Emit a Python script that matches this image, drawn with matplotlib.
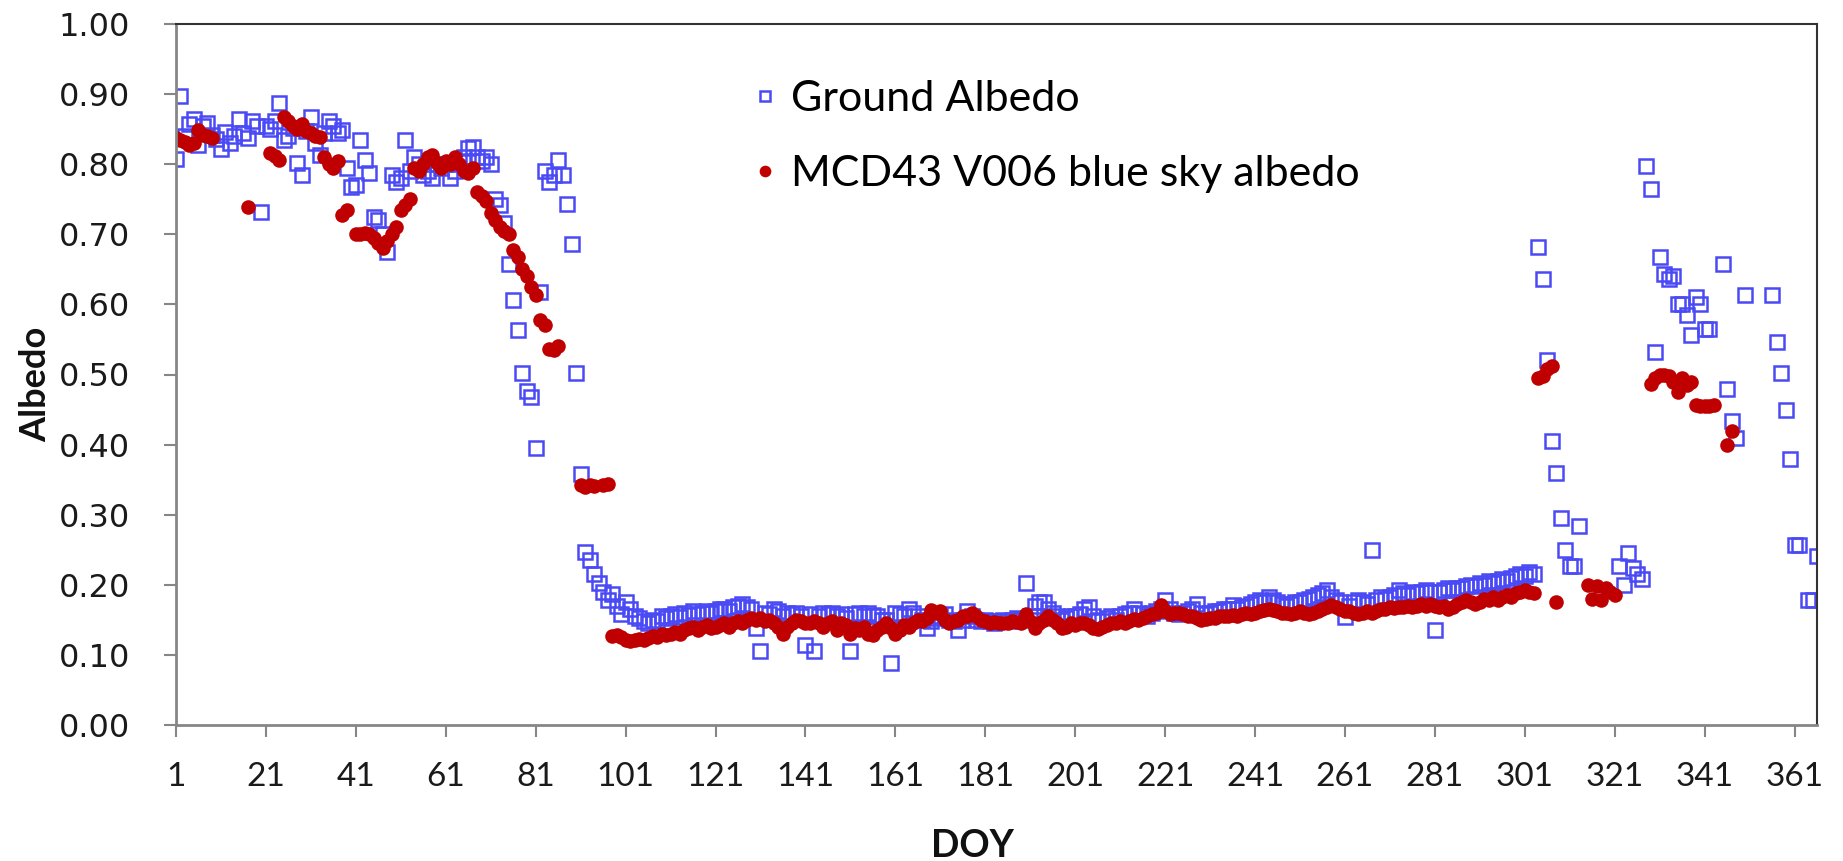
import numpy as np
import matplotlib
matplotlib.use("Agg")
import matplotlib.pyplot as plt

plt.rcParams["font.family"] = ["Lato", "DejaVu Sans"]

# day of year 1..366, one value per day (None = no observation)
doy = np.arange(1, 367)

ground_albedo = [
    0.808, 0.897, 0.840, 0.858, 0.865, 0.827, 0.855, 0.859, 0.842, 0.836,
    0.822, 0.846, 0.830, 0.840, 0.865, 0.845, 0.837, 0.861, 0.854, 0.732,
    0.854, 0.850, 0.862, 0.888, 0.835, 0.840, 0.852, 0.802, 0.785, 0.848,
    0.868, 0.830, 0.813, 0.845, 0.861, 0.854, 0.845, 0.849, 0.795, 0.768,
    0.770, 0.835, 0.806, 0.787, 0.725, 0.720, 0.700, 0.675, 0.785, 0.775,
    0.780, 0.835, 0.790, 0.810, 0.800, 0.785, 0.790, 0.780, 0.800, 0.795,
    0.800, 0.780, 0.790, 0.805, 0.810, 0.823, 0.825, 0.810, 0.805, 0.810,
    0.800, 0.751, 0.742, 0.716, 0.657, 0.606, 0.564, 0.502, 0.476, 0.468,
    0.395, 0.618, 0.790, 0.775, 0.785, 0.806, 0.785, 0.743, 0.686, 0.502,
    0.358, 0.247, 0.236, 0.216, 0.203, 0.190, 0.178, 0.187, 0.170, 0.159,
    0.175, 0.165, 0.155, 0.152, 0.148, 0.146, 0.150, 0.148, 0.155, 0.152,
    0.156, 0.158, 0.154, 0.160, 0.157, 0.162, 0.158, 0.160, 0.163, 0.160,
    0.162, 0.165, 0.166, 0.163, 0.168, 0.170, 0.172, 0.168, 0.165, 0.139,
    0.105, 0.160, 0.158, 0.165, 0.162, 0.155, 0.160, 0.158, 0.160, 0.155,
    0.114, 0.158, 0.105, 0.155, 0.160, 0.158, 0.160, 0.155, 0.158, 0.152,
    0.105, 0.158, 0.160, 0.155, 0.160, 0.157, 0.155, 0.150, 0.150, 0.089,
    0.160, 0.158, 0.155, 0.165, 0.160, 0.155, 0.150, 0.138, 0.148, 0.152,
    0.155, 0.158, 0.150, 0.148, 0.136, 0.150, 0.163, 0.155, 0.150, 0.148,
    0.150, 0.148, 0.145, 0.148, 0.150, 0.148, 0.150, 0.152, 0.150, 0.203,
    0.155, 0.170, 0.175, 0.176, 0.165, 0.160, 0.155, 0.150, 0.152, 0.155,
    0.155, 0.158, 0.165, 0.169, 0.155, 0.150, 0.148, 0.152, 0.155, 0.150,
    0.155, 0.158, 0.160, 0.165, 0.160, 0.158, 0.155, 0.160, 0.162, 0.165,
    0.178, 0.165, 0.160, 0.158, 0.160, 0.162, 0.165, 0.173, 0.160, 0.158,
    0.160, 0.162, 0.163, 0.165, 0.165, 0.171, 0.165, 0.168, 0.170, 0.172,
    0.175, 0.178, 0.176, 0.183, 0.178, 0.175, 0.172, 0.170, 0.172, 0.175,
    0.175, 0.178, 0.180, 0.182, 0.185, 0.188, 0.193, 0.182, 0.178, 0.175,
    0.154, 0.170, 0.175, 0.178, 0.175, 0.172, 0.250, 0.178, 0.183, 0.180,
    0.182, 0.185, 0.193, 0.188, 0.186, 0.190, 0.188, 0.190, 0.192, 0.190,
    0.135, 0.190, 0.192, 0.195, 0.193, 0.196, 0.195, 0.198, 0.200, 0.198,
    0.202, 0.200, 0.205, 0.203, 0.206, 0.208, 0.205, 0.210, 0.212, 0.215,
    0.212, 0.218, 0.215, 0.682, 0.636, 0.521, 0.405, 0.359, 0.295, 0.249,
    0.227, 0.227, 0.284, None, None, None, None, None, None, None,
    None, 0.227, 0.200, 0.246, 0.224, 0.215, 0.208, 0.797, 0.765, 0.532,
    0.668, 0.644, 0.636, 0.640, 0.600, 0.600, 0.585, 0.557, 0.610, 0.600,
    0.565, 0.565, None, None, 0.657, 0.480, 0.434, 0.410, None, 0.613,
    None, None, None, None, None, 0.614, 0.546, 0.502, 0.449, 0.380,
    0.257, 0.257, None, 0.178, 0.178, 0.241,
]

mcd43_albedo = [
    0.837, 0.835, 0.832, 0.827, 0.830, 0.849, 0.842, 0.840, 0.838, None,
    None, None, None, None, None, None, 0.739, None, None, None,
    None, 0.816, 0.812, 0.806, 0.868, 0.861, 0.855, 0.850, 0.858, 0.848,
    0.845, 0.840, 0.839, 0.810, 0.800, 0.795, 0.804, 0.728, 0.735, None,
    0.700, 0.700, 0.702, 0.700, 0.695, 0.688, 0.680, 0.690, 0.700, 0.710,
    0.735, 0.742, 0.751, 0.795, 0.790, 0.800, 0.810, 0.813, 0.801, 0.795,
    0.805, 0.800, 0.810, 0.800, 0.790, 0.787, 0.795, 0.761, 0.755, 0.748,
    0.730, 0.720, 0.710, 0.704, 0.700, 0.678, 0.668, 0.650, 0.640, 0.625,
    0.613, 0.578, 0.571, 0.537, 0.535, 0.540, None, None, None, None,
    0.342, 0.340, 0.343, 0.341, None, 0.342, 0.344, 0.127, 0.128, 0.125,
    0.121, 0.120, 0.121, 0.122, 0.121, 0.124, 0.127, 0.126, 0.130, 0.128,
    0.130, 0.133, 0.130, 0.135, 0.138, 0.140, 0.136, 0.140, 0.142, 0.138,
    0.140, 0.143, 0.145, 0.140, 0.146, 0.148, 0.146, 0.150, 0.152, 0.150,
    0.153, 0.148, 0.150, 0.146, 0.140, 0.130, 0.140, 0.146, 0.150, 0.148,
    0.146, 0.145, 0.148, 0.146, 0.140, 0.145, 0.148, 0.135, 0.145, 0.142,
    0.130, 0.138, 0.135, 0.140, 0.130, 0.128, 0.135, 0.140, 0.145, 0.138,
    0.130, 0.135, 0.142, 0.140, 0.145, 0.150, 0.148, 0.152, 0.164, 0.160,
    0.162, 0.150, 0.146, 0.148, 0.150, 0.155, 0.155, 0.160, 0.155, 0.150,
    0.148, 0.146, 0.147, 0.146, 0.145, 0.146, 0.148, 0.147, 0.145, 0.159,
    0.148, 0.139, 0.145, 0.150, 0.156, 0.150, 0.145, 0.139, 0.140, 0.145,
    0.142, 0.145, 0.146, 0.142, 0.138, 0.137, 0.140, 0.142, 0.145, 0.146,
    0.148, 0.146, 0.148, 0.151, 0.150, 0.152, 0.155, 0.158, 0.160, 0.171,
    0.162, 0.158, 0.160, 0.160, 0.158, 0.155, 0.156, 0.152, 0.150, 0.151,
    0.152, 0.153, 0.155, 0.156, 0.155, 0.157, 0.156, 0.158, 0.160, 0.158,
    0.160, 0.162, 0.164, 0.165, 0.164, 0.162, 0.160, 0.160, 0.158, 0.160,
    0.162, 0.160, 0.158, 0.160, 0.162, 0.165, 0.168, 0.171, 0.168, 0.165,
    0.163, 0.162, 0.160, 0.158, 0.160, 0.162, 0.160, 0.162, 0.165, 0.166,
    0.168, 0.167, 0.168, 0.169, 0.170, 0.168, 0.170, 0.172, 0.170, 0.172,
    0.170, 0.168, 0.170, 0.165, 0.168, 0.172, 0.175, 0.178, 0.175, 0.172,
    0.176, 0.180, 0.178, 0.182, 0.178, 0.182, 0.185, 0.183, 0.188, 0.190,
    0.192, 0.190, 0.188, 0.495, 0.498, 0.508, 0.512, 0.175, None, None,
    None, None, None, None, 0.200, 0.180, 0.198, 0.178, 0.195, 0.190,
    0.185, None, None, None, None, None, None, None, 0.486, 0.495,
    0.500, 0.500, 0.498, 0.490, 0.475, 0.495, 0.485, 0.490, 0.456, 0.455,
    0.455, 0.455, 0.456, None, None, 0.399, 0.420, None, None, None,
    None, None, None, None, None, None, None, None, None, None,
    None, None, None, None, None, None,
]

series_labels = ["Ground Albedo", "MCD43 V006 blue sky albedo"]
x_ticks = np.arange(1, 362, 20)
y_ticks = np.arange(0, 1.01, 0.1)

ground = np.array(ground_albedo, dtype=float)
mcd = np.array(mcd43_albedo, dtype=float)

fig = plt.figure(figsize=(18.43, 8.61), dpi=100)
ax = fig.add_axes([176 / 1843, 136 / 861, 1641 / 1843, 701 / 861])

l1, = ax.plot(doy, ground, ls="none", marker="s", ms=9.5, mfc="none",
              mec="#4a4af5", mew=1.8, label=series_labels[0])
l2, = ax.plot(doy, mcd, ls="none", marker="o", ms=10.5, mfc="#c00000",
              mec="#c00000", mew=0, label=series_labels[1])

ax.set_xlim(1, 366)
ax.set_ylim(0, 1)
ax.set_xticks(x_ticks)
ax.set_xticklabels([str(t) for t in x_ticks], fontsize=24, color="#1a1a1a")
ax.set_yticks(y_ticks)
ax.set_yticklabels([f"{v:.2f}" for v in y_ticks], fontsize=23,
                   family="DejaVu Sans", color="#1a1a1a")

for side in ("left", "bottom"):
    ax.spines[side].set_color("#868686")
    ax.spines[side].set_linewidth(2)
for side in ("top", "right"):
    ax.spines[side].set_color("#333333")
    ax.spines[side].set_linewidth(1.5)

ax.tick_params(axis="x", direction="out", length=8.5, width=1.5,
               color="#868686", pad=18)
ax.tick_params(axis="y", direction="out", length=9, width=1.5,
               color="#868686", pad=24)

fig.text(36 / 1843, 1 - 384 / 861, "Albedo", rotation=90, ha="center",
         va="center", fontsize=26, fontweight="bold", color="#111111")
fig.text(972 / 1843, 1 - 846 / 861, "DOY", ha="center", va="center",
         fontsize=27, fontweight="bold", color="#111111")

ax.legend(handles=[l1, l2], loc="upper left",
          bbox_to_anchor=(754 / 1843, 1 - 80 / 861),
          bbox_transform=fig.transFigure, frameon=False, fontsize=31,
          markerscale=0.8, handlelength=0.5, handletextpad=0.35,
          labelspacing=0.85, borderpad=0, borderaxespad=0)

fig.savefig("out.png", dpi=100)
